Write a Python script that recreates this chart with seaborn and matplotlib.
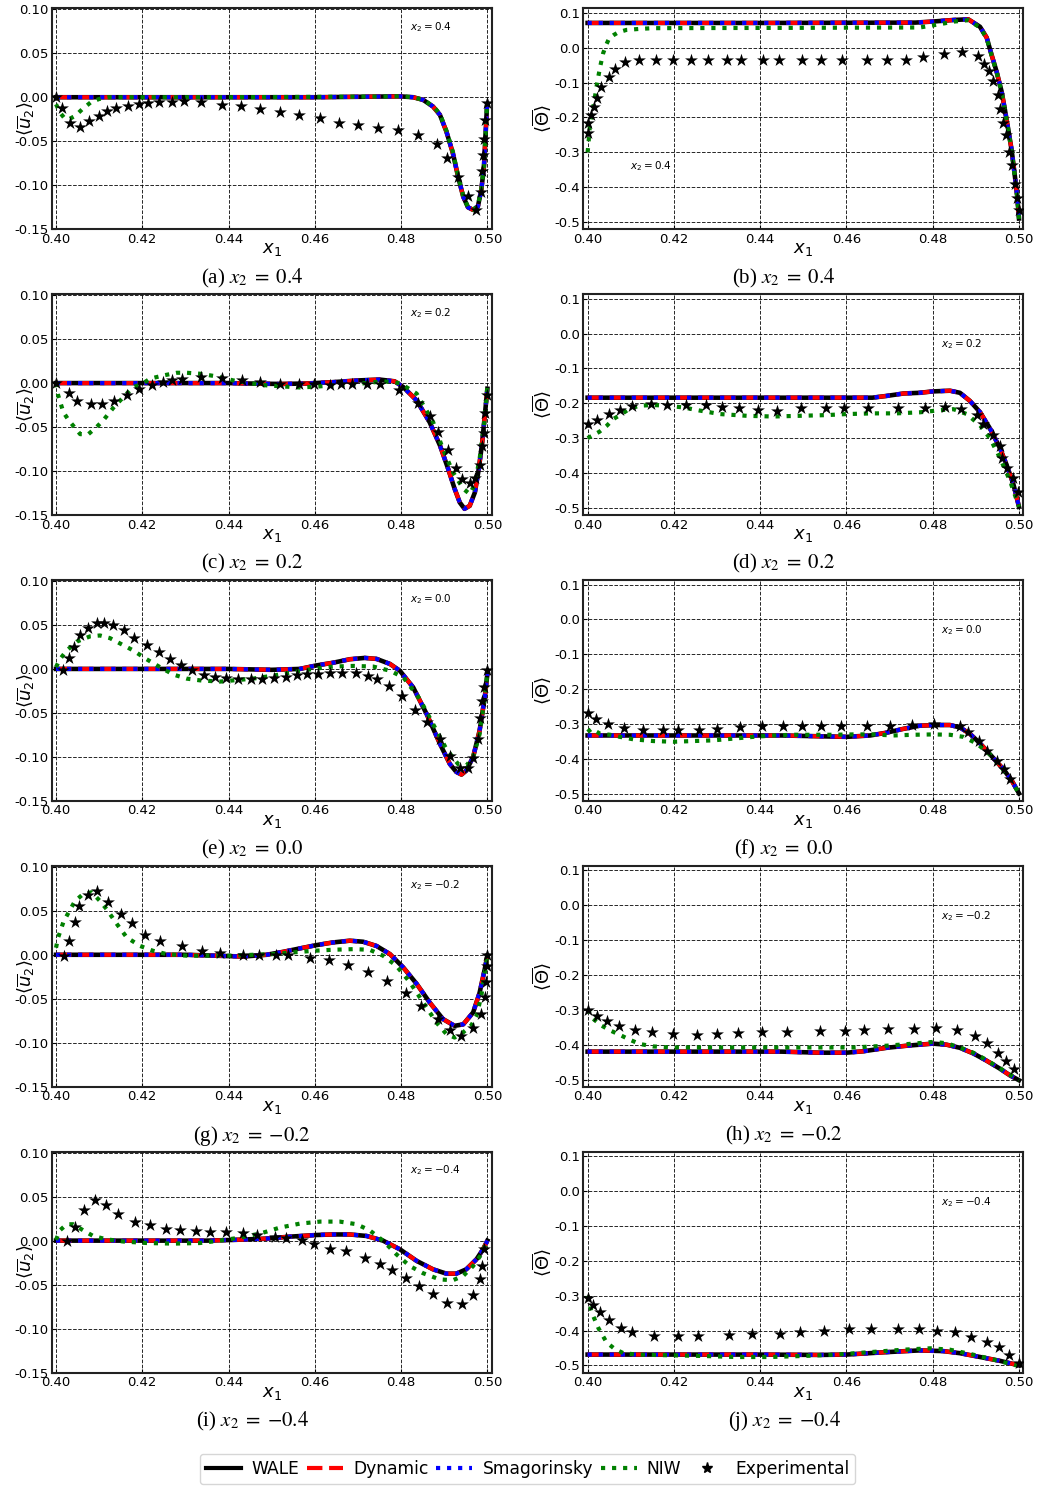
import matplotlib
matplotlib.use("Agg")
import matplotlib.pyplot as plt
from matplotlib.lines import Line2D
from matplotlib.ticker import FormatStrFormatter
import seaborn as sns

# ---------------------------------------------------------------------------
# Data.
# WALE, Dynamic and Smagorinsky coincide at plot resolution -> one "les_*" list
# per panel is used for the three LES closures.
# ---------------------------------------------------------------------------
# (a) <u2>, x2 = 0.4
x_les_a = [0.400, 0.420, 0.440, 0.460, 0.4760, 0.4797, 0.4828, 0.4851, 0.4874, 0.4890, 0.4905,
           0.4920, 0.4932, 0.4944, 0.4955, 0.4967, 0.4978, 0.4986, 0.4992, 0.4996, 0.4999]
les_a = [0.0, 0.0, 0.0, 0.0, 0.0008, 0.0010, 0.0, -0.003, -0.0106, -0.020, -0.039,
         -0.0636, -0.090, -0.113, -0.125, -0.128, -0.124, -0.105, -0.079, -0.041, -0.0106]
x_niw_a = [0.400, 0.401, 0.402, 0.403, 0.4045, 0.406, 0.408, 0.410, 0.412, 0.440, 0.4760, 0.4797,
           0.4828, 0.4851, 0.4874, 0.4890, 0.4905, 0.4920, 0.4932, 0.4944, 0.4955, 0.4967, 0.4978,
           0.4986, 0.4992, 0.4996, 0.4999]
niw_a = [-0.008, -0.018, -0.024, -0.025, -0.021, -0.014, -0.006, -0.002, 0.0, 0.0, 0.0008, 0.0012,
         0.0, -0.003, -0.010, -0.019, -0.038, -0.062, -0.089, -0.112, -0.125, -0.128, -0.123,
         -0.104, -0.078, -0.040, -0.010]
x_exp_a = [0.4000, 0.4015, 0.4033, 0.4055, 0.4077, 0.4100, 0.4119, 0.4140, 0.4167, 0.4192, 0.4214,
           0.4239, 0.4268, 0.4297, 0.4337, 0.4384, 0.4429, 0.4473, 0.4519, 0.4564, 0.4611, 0.4655,
           0.4701, 0.4746, 0.4792, 0.4838, 0.4883, 0.4907, 0.4931, 0.4954, 0.4974, 0.4986, 0.4988,
           0.4990, 0.4992, 0.4994, 0.4998]
exp_a = [0.000, -0.0125, -0.0295, -0.034, -0.0265, -0.021, -0.016, -0.0125, -0.010, -0.008, -0.007,
         -0.0057, -0.0057, -0.0045, -0.0057, -0.0087, -0.010, -0.013, -0.017, -0.020, -0.024, -0.0288,
         -0.032, -0.0345, -0.0375, -0.043, -0.053, -0.069, -0.091, -0.112, -0.128, -0.108, -0.084,
         -0.066, -0.047, -0.026, -0.006]

# (b) <Theta>, x2 = 0.4
x_les_b = [0.400, 0.440, 0.476, 0.480, 0.4848, 0.48825, 0.49096, 0.49251, 0.49366, 0.49482, 0.49598,
           0.49675, 0.49753, 0.4983, 0.49907, 0.49961, 0.5000]
les_b = [0.071, 0.071, 0.072, 0.075, 0.0795, 0.0814, 0.060, 0.029, -0.021, -0.069, -0.126,
         -0.179, -0.236, -0.294, -0.371, -0.428, -0.490]
x_niw_b = [0.4000, 0.4002, 0.4005, 0.4012, 0.4017, 0.4022, 0.4029, 0.4036, 0.4043, 0.4050, 0.4060,
           0.4071, 0.4090, 0.4121, 0.4152, 0.4500, 0.4770, 0.4810, 0.4850, 0.48825, 0.49096, 0.49251,
           0.49366, 0.49482, 0.49598, 0.49675, 0.49753, 0.4983, 0.49907, 0.49961, 0.5000]
niw_b = [-0.300, -0.275, -0.227, -0.179, -0.141, -0.102, -0.055, -0.016, 0.008, 0.027, 0.036,
         0.044, 0.051, 0.054, 0.056, 0.057, 0.058, 0.066, 0.075, 0.079, 0.058, 0.027,
         -0.023, -0.071, -0.128, -0.181, -0.238, -0.296, -0.373, -0.430, -0.492]
x_exp_b = [0.4000, 0.4002, 0.4008, 0.4015, 0.4021, 0.4031, 0.4049, 0.4063, 0.4087, 0.4120, 0.4159,
           0.4197, 0.4240, 0.4278, 0.4322, 0.4355, 0.4406, 0.4444, 0.4497, 0.4542, 0.4590, 0.4648,
           0.4695, 0.4738, 0.4778, 0.4827, 0.4867, 0.4904, 0.4920, 0.4931, 0.4939, 0.4952, 0.4957,
           0.4963, 0.4971, 0.4978, 0.4983, 0.4991, 0.4996, 0.5000]
exp_b = [-0.246, -0.217, -0.192, -0.170, -0.143, -0.114, -0.083, -0.060, -0.041, -0.035, -0.035,
         -0.035, -0.035, -0.035, -0.035, -0.035, -0.035, -0.035, -0.035, -0.035, -0.035, -0.035,
         -0.035, -0.035, -0.028, -0.018, -0.011, -0.024, -0.048, -0.066, -0.095, -0.136, -0.176,
         -0.215, -0.251, -0.299, -0.337, -0.390, -0.430, -0.465]

# (c) <u2>, x2 = 0.2
x_les_c = [0.400, 0.420, 0.440, 0.445, 0.452, 0.458, 0.464, 0.470, 0.475, 0.4785, 0.4805, 0.4836,
           0.4866, 0.4890, 0.4909, 0.4924, 0.4936, 0.4947, 0.4959, 0.4971, 0.4980, 0.4988, 0.4994,
           0.5000]
les_c = [0.0, 0.0, 0.0, -0.0005, -0.001, -0.0005, 0.001, 0.003, 0.004, 0.002, -0.0045, -0.0197,
         -0.0443, -0.0708, -0.0973, -0.120, -0.1356, -0.1428, -0.1394, -0.1242, -0.0977, -0.0674,
         -0.0367, -0.0064]
x_niw_c = [0.4000, 0.4005, 0.4017, 0.4029, 0.4056, 0.4075, 0.4094, 0.4110, 0.4133, 0.4156, 0.4179,
           0.4198, 0.4218, 0.4249, 0.4280, 0.4303, 0.4334, 0.4372, 0.4411, 0.4449, 0.4488, 0.4527,
           0.4565, 0.4604, 0.4642, 0.4681, 0.4720, 0.4758, 0.4797, 0.4836, 0.4874, 0.4897, 0.4920,
           0.4944, 0.4959, 0.4970, 0.4982, 0.4994, 0.5000]
niw_c = [0.0, -0.014, -0.033, -0.042, -0.058, -0.058, -0.050, -0.042, -0.028, -0.016, -0.0045,
         -0.0015, 0.005, 0.0087, 0.0117, 0.0117, 0.0106, 0.0076, 0.003, 0.0, -0.0026, -0.0038,
         -0.005, -0.004, -0.0026, -0.0015, 0.0, 0.002, 0.0, -0.012, -0.044, -0.075, -0.101,
         -0.120, -0.126, -0.116, -0.086, -0.040, -0.003]
x_exp_c = [0.4000, 0.4029, 0.4049, 0.4082, 0.4106, 0.4135, 0.4164, 0.4193, 0.4222, 0.4247, 0.4270,
           0.4293, 0.4337, 0.4384, 0.4430, 0.4474, 0.4520, 0.4563, 0.4597, 0.4636, 0.4660, 0.4687,
           0.4722, 0.4751, 0.4795, 0.4839, 0.4866, 0.4886, 0.4909, 0.4927, 0.4941, 0.4959, 0.4972,
           0.4984, 0.4988, 0.4992, 0.4995, 0.4998]
exp_c = [0.0, -0.011, -0.020, -0.024, -0.024, -0.020, -0.013, -0.007, -0.0027, 0.001, 0.003,
         0.005, 0.0068, 0.0057, 0.003, 0.001, -0.0015, -0.0015, -0.0015, -0.002, -0.0015, -0.0015,
         -0.0015, -0.0015, -0.0083, -0.023, -0.0375, -0.0557, -0.0765, -0.0966, -0.109, -0.113,
         -0.108, -0.093, -0.071, -0.057, -0.034, -0.014]

# (d) <Theta>, x2 = 0.2
x_les_d = [0.400, 0.440, 0.466, 0.4693, 0.4732, 0.4770, 0.4800, 0.4840, 0.4863, 0.4886, 0.4910,
           0.4933, 0.4956, 0.4971, 0.4987, 0.5000]
les_d = [-0.184, -0.184, -0.184, -0.179, -0.172, -0.170, -0.166, -0.164, -0.170, -0.193, -0.226,
         -0.273, -0.329, -0.376, -0.432, -0.497]
x_niw_d = [0.4000, 0.4027, 0.4044, 0.4060, 0.4079, 0.4098, 0.4121, 0.4152, 0.4183, 0.4222, 0.4260,
           0.4307, 0.4369, 0.4430, 0.4492, 0.4554, 0.4600, 0.4662, 0.4716, 0.4770, 0.4817, 0.4848,
           0.4879, 0.4910, 0.4933, 0.4956, 0.4979, 0.5000]
niw_d = [-0.300, -0.282, -0.265, -0.245, -0.231, -0.215, -0.207, -0.205, -0.207, -0.212, -0.221,
         -0.231, -0.236, -0.238, -0.236, -0.234, -0.231, -0.229, -0.229, -0.226, -0.220, -0.217,
         -0.231, -0.264, -0.301, -0.357, -0.422, -0.497]
x_exp_d = [0.4000, 0.4022, 0.4049, 0.4075, 0.4104, 0.4146, 0.4183, 0.4227, 0.4274, 0.4312, 0.4352,
           0.4396, 0.4439, 0.4495, 0.4552, 0.4594, 0.4651, 0.4720, 0.4781, 0.4829, 0.4866, 0.4903,
           0.4917, 0.4939, 0.4956, 0.4961, 0.4973, 0.4985, 0.4997]
exp_d = [-0.259, -0.248, -0.231, -0.220, -0.209, -0.201, -0.205, -0.205, -0.206, -0.210, -0.215,
         -0.219, -0.221, -0.215, -0.215, -0.215, -0.215, -0.215, -0.215, -0.211, -0.217, -0.234,
         -0.259, -0.292, -0.324, -0.357, -0.385, -0.415, -0.455]

# (e) <u2>, x2 = 0.0
x_les_e = [0.400, 0.420, 0.440, 0.450, 0.4565, 0.4604, 0.4642, 0.4681, 0.4716, 0.4743, 0.4774,
           0.4797, 0.4828, 0.4859, 0.4890, 0.4913, 0.4928, 0.4940, 0.4951, 0.4967, 0.4982, 0.4994,
           0.5000]
les_e = [0.0, 0.0, 0.0, -0.001, 0.0, 0.004, 0.007, 0.011, 0.0125, 0.0114, 0.0057, -0.002, -0.021,
         -0.051, -0.085, -0.108, -0.117, -0.120, -0.1155, -0.100, -0.070, -0.032, -0.0057]
x_niw_e = [0.4000, 0.4009, 0.4025, 0.4048, 0.4079, 0.4102, 0.4125, 0.4148, 0.4179, 0.4210, 0.4241,
           0.4272, 0.4303, 0.4334, 0.4380, 0.4411, 0.4457, 0.4503, 0.4550, 0.4596, 0.4642, 0.4689,
           0.4735, 0.4774, 0.4805, 0.4843, 0.4874, 0.4905, 0.4932, 0.4951, 0.4967, 0.4982, 0.4994,
           0.5000]
niw_e = [0.002, 0.011, 0.021, 0.031, 0.037, 0.038, 0.035, 0.029, 0.021, 0.011, 0.002, -0.0064,
         -0.011, -0.013, -0.0144, -0.013, -0.011, -0.0076, -0.0038, 0.0, 0.0027, 0.0034, 0.0027,
         -0.002, -0.0095, -0.034, -0.0625, -0.091, -0.108, -0.110, -0.100, -0.074, -0.032, -0.004]
x_exp_e = [0.4017, 0.4030, 0.4042, 0.4056, 0.4075, 0.4094, 0.4112, 0.4133, 0.4158, 0.4181, 0.4210,
           0.4239, 0.4265, 0.4290, 0.4316, 0.4342, 0.4368, 0.4395, 0.4423, 0.4451, 0.4477, 0.4505,
           0.4532, 0.4558, 0.4581, 0.4608, 0.4636, 0.4663, 0.4695, 0.4723, 0.4745, 0.4772, 0.4802,
           0.4832, 0.4859, 0.4890, 0.4913, 0.4936, 0.4955, 0.4967, 0.4979, 0.4984, 0.4988, 0.4992,
           0.4998]
exp_e = [-0.001, 0.0125, 0.025, 0.0386, 0.047, 0.052, 0.052, 0.050, 0.044, 0.035, 0.027, 0.019,
         0.011, 0.0045, -0.001, -0.0064, -0.0087, -0.010, -0.011, -0.011, -0.011, -0.010, -0.0087,
         -0.0064, -0.0057, -0.0057, -0.0045, -0.0045, -0.0045, -0.0076, -0.011, -0.019, -0.031,
         -0.047, -0.060, -0.080, -0.0985, -0.112, -0.112, -0.1015, -0.080, -0.056, -0.036, -0.021,
         -0.001]

# (f) <Theta>, x2 = 0.0
x_les_f = [0.400, 0.445, 0.4600, 0.4655, 0.4693, 0.4732, 0.4770, 0.4809, 0.4840, 0.4863, 0.4886,
           0.4910, 0.4940, 0.4964, 0.4983, 0.5000]
les_f = [-0.333, -0.333, -0.337, -0.333, -0.325, -0.314, -0.305, -0.303, -0.303, -0.310, -0.328,
         -0.356, -0.397, -0.430, -0.462, -0.499]
x_niw_f = [0.4000, 0.4009, 0.4029, 0.4052, 0.4075, 0.4106, 0.4152, 0.4199, 0.4245, 0.4291, 0.4338,
           0.4384, 0.4430, 0.4477, 0.4523, 0.4570, 0.4616, 0.4662, 0.4709, 0.4755, 0.4801, 0.4840,
           0.4871, 0.4902, 0.4933, 0.4956, 0.4979, 0.5000]
niw_f = [-0.323, -0.314, -0.328, -0.331, -0.337, -0.344, -0.349, -0.351, -0.349, -0.347, -0.342,
         -0.337, -0.333, -0.331, -0.331, -0.331, -0.330, -0.330, -0.333, -0.331, -0.330, -0.331,
         -0.337, -0.356, -0.388, -0.420, -0.457, -0.499]
x_exp_f = [0.4000, 0.4019, 0.4048, 0.4084, 0.4129, 0.4175, 0.4210, 0.4259, 0.4301, 0.4353, 0.4405,
           0.4453, 0.4498, 0.4540, 0.4588, 0.4647, 0.4701, 0.4753, 0.4803, 0.4863, 0.4881, 0.4907,
           0.4927, 0.4948, 0.4966, 0.4979]
exp_f = [-0.268, -0.287, -0.301, -0.312, -0.317, -0.317, -0.317, -0.317, -0.314, -0.310, -0.305,
         -0.305, -0.305, -0.307, -0.307, -0.307, -0.307, -0.303, -0.300, -0.305, -0.323, -0.349,
         -0.377, -0.405, -0.430, -0.457]

# (g) <u2>, x2 = -0.2
x_les_g = [0.400, 0.420, 0.430, 0.4434, 0.4488, 0.4527, 0.4565, 0.4604, 0.4642, 0.4681, 0.4712,
           0.4743, 0.4774, 0.4805, 0.4836, 0.4866, 0.4897, 0.4924, 0.4944, 0.4967, 0.4982, 0.4994,
           0.5000]
les_g = [0.0, 0.0, 0.0, -0.002, 0.0, 0.0034, 0.0072, 0.011, 0.014, 0.016, 0.0148, 0.010, 0.0008,
         -0.0144, -0.033, -0.054, -0.073, -0.0807, -0.079, -0.0655, -0.043, -0.016, -0.001]
x_niw_g = [0.4000, 0.4005, 0.4017, 0.4029, 0.4044, 0.4063, 0.4083, 0.4102, 0.4117, 0.4141, 0.4164,
           0.4195, 0.4225, 0.4256, 0.4303, 0.4364, 0.4411, 0.4457, 0.4503, 0.4550, 0.4596, 0.4642,
           0.4689, 0.4727, 0.4758, 0.4789, 0.4820, 0.4851, 0.4882, 0.4905, 0.4924, 0.4944, 0.4963,
           0.4975, 0.4986, 0.4994, 0.5000]
niw_g = [0.008, 0.0197, 0.037, 0.048, 0.061, 0.069, 0.071, 0.061, 0.052, 0.035, 0.0197, 0.010,
         0.0045, 0.0008, -0.001, -0.001, -0.001, 0.0, 0.0008, 0.0027, 0.0045, 0.0057, 0.0064,
         0.0057, -0.001, -0.0125, -0.031, -0.054, -0.077, -0.090, -0.094, -0.088, -0.080, -0.069,
         -0.0466, -0.020, -0.001]
x_exp_g = [0.4019, 0.4030, 0.4043, 0.4053, 0.4073, 0.4094, 0.4121, 0.4151, 0.4175, 0.4207, 0.4242,
           0.4292, 0.4339, 0.4380, 0.4434, 0.4471, 0.4510, 0.4538, 0.4588, 0.4633, 0.4676, 0.4724,
           0.4768, 0.4811, 0.4847, 0.4886, 0.4914, 0.4939, 0.4966, 0.4985, 0.4994, 0.4996, 0.4998,
           0.4999]
exp_g = [-0.001, 0.016, 0.0367, 0.0557, 0.068, 0.072, 0.060, 0.046, 0.036, 0.023, 0.016, 0.0095,
         0.0045, 0.0019, 0.0, 0.0, 0.0, 0.0, -0.0038, -0.0064, -0.0114, -0.019, -0.030, -0.043,
         -0.058, -0.073, -0.086, -0.092, -0.0826, -0.067, -0.0485, -0.031, -0.013, 0.0]

# (h) <Theta>, x2 = -0.2
x_les_h = [0.400, 0.445, 0.4539, 0.4600, 0.4639, 0.4693, 0.4740, 0.4770, 0.4800, 0.4832, 0.4863,
           0.4894, 0.4925, 0.4956, 0.4979, 0.5000]
les_h = [-0.420, -0.420, -0.423, -0.423, -0.419, -0.409, -0.403, -0.400, -0.397, -0.400, -0.409,
         -0.425, -0.446, -0.469, -0.488, -0.502]
x_niw_h = [0.4000, 0.4013, 0.4032, 0.4052, 0.4075, 0.4098, 0.4121, 0.4152, 0.4191, 0.4268, 0.4384,
           0.4500, 0.4616, 0.4693, 0.4755, 0.4801, 0.4832, 0.4863, 0.4894, 0.4925, 0.4956, 0.4979,
           0.5000]
niw_h = [-0.299, -0.326, -0.345, -0.359, -0.372, -0.386, -0.398, -0.405, -0.408, -0.408, -0.408,
         -0.408, -0.408, -0.403, -0.397, -0.392, -0.396, -0.408, -0.423, -0.444, -0.468, -0.486,
         -0.502]
x_exp_h = [0.4000, 0.4022, 0.4046, 0.4073, 0.4110, 0.4149, 0.4199, 0.4253, 0.4301, 0.4349, 0.4405,
           0.4463, 0.4539, 0.4597, 0.4641, 0.4696, 0.4757, 0.4808, 0.4856, 0.4897, 0.4926, 0.4951,
           0.4971, 0.4989]
exp_h = [-0.300, -0.319, -0.331, -0.347, -0.359, -0.365, -0.368, -0.371, -0.368, -0.366, -0.363,
         -0.363, -0.361, -0.361, -0.359, -0.356, -0.354, -0.351, -0.359, -0.374, -0.396, -0.423,
         -0.448, -0.471]

# (i) <u2>, x2 = -0.4
x_les_i = [0.400, 0.420, 0.435, 0.4411, 0.4488, 0.4542, 0.4604, 0.4642, 0.4681, 0.4720, 0.4758,
           0.4797, 0.4836, 0.4874, 0.4905, 0.4928, 0.4951, 0.4975, 0.4990, 0.5000]
les_i = [0.0, 0.0, 0.0, 0.0008, 0.0023, 0.0045, 0.0064, 0.007, 0.007, 0.0053, 0.0, -0.0098,
         -0.023, -0.0326, -0.0375, -0.0375, -0.0326, -0.021, -0.0098, 0.0]
x_niw_i = [0.4000, 0.4009, 0.4025, 0.4040, 0.4063, 0.4086, 0.4117, 0.4156, 0.4210, 0.4272, 0.4334,
           0.4380, 0.4426, 0.4473, 0.4519, 0.4565, 0.4612, 0.4658, 0.4697, 0.4727, 0.4758, 0.4789,
           0.4820, 0.4851, 0.4889, 0.4920, 0.4944, 0.4967, 0.4986, 0.5000]
niw_i = [0.0008, 0.0117, 0.0186, 0.0186, 0.0117, 0.0053, 0.0015, -0.001, -0.0027, -0.0034, -0.0027,
         0.0, 0.0034, 0.008, 0.0148, 0.0193, 0.0216, 0.0216, 0.0186, 0.0117, 0.0, -0.0155, -0.0288,
         -0.037, -0.044, -0.045, -0.040, -0.0288, -0.0155, 0.0]
x_exp_i = [0.4025, 0.4045, 0.4066, 0.4090, 0.4117, 0.4144, 0.4183, 0.4218, 0.4254, 0.4287, 0.4324,
           0.4358, 0.4394, 0.4434, 0.4467, 0.4508, 0.4534, 0.4570, 0.4597, 0.4635, 0.4673, 0.4717,
           0.4751, 0.4778, 0.4812, 0.4842, 0.4874, 0.4906, 0.4940, 0.4966, 0.4983, 0.4988, 0.4993]
exp_i = [0.0, 0.016, 0.0345, 0.046, 0.0405, 0.0307, 0.0216, 0.0178, 0.0133, 0.0121, 0.011, 0.0098,
         0.0098, 0.0083, 0.006, 0.0045, 0.0034, 0.0008, -0.0034, -0.009, -0.0117, -0.020, -0.027,
         -0.0337, -0.0428, -0.0515, -0.061, -0.0712, -0.0723, -0.0617, -0.044, -0.0288, -0.0098]

# (j) <Theta>, x2 = -0.4
x_les_j = [0.400, 0.440, 0.4539, 0.4600, 0.4693, 0.4770, 0.4824, 0.4863, 0.4910, 0.4956, 0.5000]
les_j = [-0.469, -0.469, -0.470, -0.469, -0.462, -0.457, -0.459, -0.465, -0.476, -0.487, -0.500]
x_niw_j = [0.4000, 0.4009, 0.4025, 0.4044, 0.4063, 0.4083, 0.4114, 0.4191, 0.4268, 0.4345, 0.4423,
           0.4500, 0.4577, 0.4655, 0.4732, 0.4794, 0.4840, 0.4886, 0.4940, 0.5000]
niw_j = [-0.300, -0.347, -0.393, -0.434, -0.453, -0.465, -0.469, -0.471, -0.473, -0.476, -0.476,
         -0.473, -0.469, -0.462, -0.455, -0.451, -0.455, -0.467, -0.483, -0.502]
x_exp_j = [0.4000, 0.4013, 0.4029, 0.4050, 0.4077, 0.4104, 0.4154, 0.4209, 0.4257, 0.4328, 0.4381,
           0.4447, 0.4492, 0.4549, 0.4606, 0.4658, 0.4719, 0.4769, 0.4810, 0.4852, 0.4888, 0.4925,
           0.4954, 0.4978, 0.5000]
exp_j = [-0.308, -0.328, -0.347, -0.370, -0.393, -0.405, -0.416, -0.416, -0.416, -0.413, -0.411,
         -0.409, -0.404, -0.400, -0.397, -0.397, -0.397, -0.397, -0.400, -0.405, -0.418, -0.432,
         -0.448, -0.469, -0.493]

x_ticks = [0.40, 0.42, 0.44, 0.46, 0.48, 0.50]
u_ticks = [-0.15, -0.10, -0.05, 0.00, 0.05, 0.10]
t_ticks = [-0.5, -0.4, -0.3, -0.2, -0.1, 0.0, 0.1]
x2_values = ["0.4", "0.2", "0.0", "-0.2", "-0.4"]
caption_x2 = ["0.4", "0.2", "0.0", "{-0.2}", "{-0.4}"]
letters = "abcdefghij"
series_labels = ["WALE", "Dynamic", "Smagorinsky", "NIW", "Experimental"]

u_panels = [(x_les_a, les_a, x_niw_a, niw_a, x_exp_a, exp_a),
            (x_les_c, les_c, x_niw_c, niw_c, x_exp_c, exp_c),
            (x_les_e, les_e, x_niw_e, niw_e, x_exp_e, exp_e),
            (x_les_g, les_g, x_niw_g, niw_g, x_exp_g, exp_g),
            (x_les_i, les_i, x_niw_i, niw_i, x_exp_i, exp_i)]
t_panels = [(x_les_b, les_b, x_niw_b, niw_b, x_exp_b, exp_b),
            (x_les_d, les_d, x_niw_d, niw_d, x_exp_d, exp_d),
            (x_les_f, les_f, x_niw_f, niw_f, x_exp_f, exp_f),
            (x_les_h, les_h, x_niw_h, niw_h, x_exp_h, exp_h),
            (x_les_j, les_j, x_niw_j, niw_j, x_exp_j, exp_j)]

# ---------------------------------------------------------------------------
W, H = 1038, 1487
fig = plt.figure(figsize=(W / 100, H / 100), dpi=100)

LW = 3.0


def rect(col, row):
    left = 51.7 if col == 0 else 583.3
    top = 8.3 + row * 285.85
    return [left / W, 1 - (top + 221) / H, 440 / W, 221 / H]


def draw(ax, data):
    xl, les, xn, niw, xe, ex = data
    sns.lineplot(x=xl, y=les, ax=ax, color="black", lw=LW + 0.3, ls="-",
                 estimator=None, sort=False, zorder=2)
    sns.lineplot(x=xl, y=les, ax=ax, color="red", lw=LW, ls="--",
                 estimator=None, sort=False, zorder=3)
    sns.lineplot(x=xl, y=les, ax=ax, color="blue", lw=LW, ls=":",
                 estimator=None, sort=False, zorder=4)
    sns.lineplot(x=xn, y=niw, ax=ax, color="green", lw=LW, ls=":",
                 estimator=None, sort=False, zorder=5)
    sns.scatterplot(x=xe, y=ex, ax=ax, marker="*", s=95, color="black",
                    linewidth=0, zorder=6)


def style(ax, yticks, fmt, ylim):
    ax.set_xlim(0.399, 0.501)
    ax.set_ylim(*ylim)
    ax.set_xticks(x_ticks)
    ax.set_yticks(yticks)
    ax.xaxis.set_major_formatter(FormatStrFormatter("%.2f"))
    ax.yaxis.set_major_formatter(FormatStrFormatter(fmt))
    ax.grid(True, color="black", ls="--", lw=0.7, alpha=0.85)
    ax.set_axisbelow(True)
    ax.tick_params(labelsize=9.5, direction="in", length=3, pad=2.5)
    for s in ax.spines.values():
        s.set_linewidth(1.5)
        s.set_color("#222222")
    ax.set_xlabel("$x_1$", fontsize=13, labelpad=-4)


for r in range(5):
    # left: <u2>
    ax = fig.add_axes(rect(0, r))
    draw(ax, u_panels[r])
    style(ax, u_ticks, "%.2f", (-0.15, 0.101))
    ax.set_ylabel(r"$\langle\overline{u}_2\rangle$", fontsize=13)
    ax.yaxis.set_label_coords(-0.033, 0.5)
    ax.text(0.814, 0.915, "$x_2 = %s$" % x2_values[r], transform=ax.transAxes,
            fontsize=7.5, ha="left", va="center")
    fig.text(252 / W, 1 - (278 + r * 285.85) / H,
             r"(%s) $x_2\;=\;%s$" % (letters[2 * r], caption_x2[r]),
             ha="center", va="center", fontsize=15, family="Liberation Serif",
             math_fontfamily="stix")

    # right: <Theta>
    ax = fig.add_axes(rect(1, r))
    draw(ax, t_panels[r])
    style(ax, t_ticks, "%.1f", (-0.521, 0.113))
    ax.set_ylabel(r"$\langle\overline{\Theta}\rangle$", fontsize=13)
    ax.yaxis.set_label_coords(-0.068, 0.5)
    if r == 0:
        ax.text(0.106, 0.286, "$x_2 = %s$" % x2_values[r], transform=ax.transAxes,
                fontsize=7.5, ha="left", va="center")
    else:
        ax.text(0.813, 0.772, "$x_2 = %s$" % x2_values[r], transform=ax.transAxes,
                fontsize=7.5, ha="left", va="center")
    fig.text(784 / W, 1 - (278 + r * 285.85) / H,
             r"(%s) $x_2\;=\;%s$" % (letters[2 * r + 1], caption_x2[r]),
             ha="center", va="center", fontsize=15, family="Liberation Serif",
             math_fontfamily="stix")

handles = [Line2D([], [], color="black", lw=LW, ls="-"),
           Line2D([], [], color="red", lw=LW, ls="--"),
           Line2D([], [], color="blue", lw=LW, ls=":"),
           Line2D([], [], color="green", lw=LW, ls=":"),
           Line2D([], [], color="black", ls="none", marker="*", markersize=8)]
fig.legend(handles, series_labels, loc="center",
           bbox_to_anchor=(527.5 / W, 1 - 1469 / H), ncol=5, fontsize=12.3,
           frameon=True, fancybox=True, edgecolor="0.8", handlelength=2.1,
           handletextpad=0.6, columnspacing=0.45, borderpad=0.35, borderaxespad=0)

fig.savefig("out.png", dpi=100)
